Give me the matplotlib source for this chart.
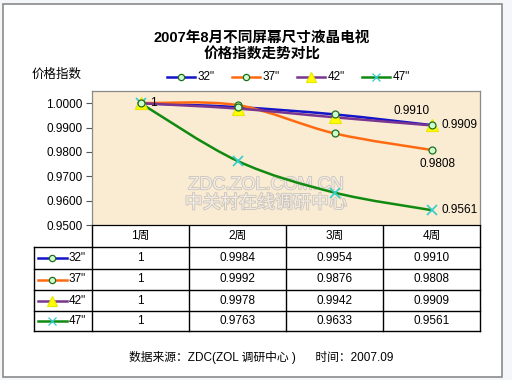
import matplotlib
matplotlib.use("Agg")
import matplotlib.pyplot as plt
import matplotlib.patheffects as pe
from matplotlib.path import Path
from matplotlib.patches import PathPatch, Rectangle
from matplotlib.lines import Line2D
import numpy as np

FONT = ["Liberation Sans", "Noto Sans CJK SC", "DejaVu Sans"]
plt.rcParams["font.family"] = FONT

weeks = ["1周", "2周", "3周", "4周"]
series_names = ['32"', '37"', '42"', '47"']
v32 = [1, 0.9984, 0.9954, 0.9910]
v37 = [1, 0.9992, 0.9876, 0.9808]
v42 = [1, 0.9978, 0.9942, 0.9909]
v47 = [1, 0.9763, 0.9633, 0.9561]
table_text = [
    ["1", "0.9984", "0.9954", "0.9910"],
    ["1", "0.9992", "0.9876", "0.9808"],
    ["1", "0.9978", "0.9942", "0.9909"],
    ["1", "0.9763", "0.9633", "0.9561"],
]
yticks = [0.95, 0.96, 0.97, 0.98, 0.99, 1.00]

title = "2007年8月不同屏幕尺寸液晶电视\n价格指数走势对比"
ylabel = "价格指数"
source = "数据来源：ZDC(ZOL 调研中心 )      时间：2007.09"

styles = [
    dict(color="#1414C8", marker="o", mfc="#CCFFCC", mec="#1E6E1E", ms=5),
    dict(color="#FF6A10", marker="o", mfc="#CCFFCC", mec="#1E6E1E", ms=5),
    dict(color="#7A3590", marker="^", mfc="#FFFF00", mec="#E8E800", ms=8.5),
    dict(color="#108A10", marker="x", mfc="#33CCCC", mec="#33CCCC", ms=7),
]
all_vals = [v32, v37, v42, v47]

W, H = 512, 380
fig = plt.figure(figsize=(W / 100, H / 100), dpi=100, facecolor="#F4F6F9")


def fx(x):
    return x / W


def fy(y):
    return 1 - y / H


# overlay in pixel coordinates for frame, table and texts
ov = fig.add_axes([0, 0, 1, 1], zorder=0)
ov.set_xlim(0, W)
ov.set_ylim(H, 0)
ov.axis("off")
ov.add_patch(Rectangle((3, 4), 499, 373, facecolor="white", edgecolor="#8A8A8A", lw=1.2))

# main plot
L, R, T, B = 92, 480, 91, 225
ax = fig.add_axes([fx(L), fy(B), (R - L) / W, (B - T) / H], zorder=2)
ax.set_facecolor("#FAEBD3")
ax.set_xlim(-0.5, len(weeks) - 0.5)
ax.set_ylim(0.95, 1.005)
ax.set_yticks(yticks)
ax.set_yticklabels([f"{t:.4f}" for t in yticks], fontsize=8.5)
ax.set_xticks([])
ax.tick_params(axis="y", length=4, width=0.8, color="#555555", pad=3)
for s in ax.spines.values():
    s.set_color("#8A8A8A")
    s.set_linewidth(0.9)
ax.spines["bottom"].set_color("black")

# watermark
wm = dict(ha="center", va="center", color="#F4EEE6", fontsize=13, alpha=0.95,
          path_effects=[pe.withStroke(linewidth=1.2, foreground="#C8C2BA")], zorder=1)
ax.text(1.29, 0.9665, "ZDC.ZOL.COM.CN", **wm)
ax.text(1.29, 0.9588, "中关村在线调研中心", **wm)


def smooth_path(xs, ys):
    pts = np.column_stack([xs, ys]).astype(float)
    n = len(pts)
    verts = [pts[0]]
    codes = [Path.MOVETO]
    for i in range(n - 1):
        p0 = pts[max(i - 1, 0)]
        p1 = pts[i]
        p2 = pts[i + 1]
        p3 = pts[min(i + 2, n - 1)]
        c1 = p1 + (p2 - p0) / 6
        c2 = p2 - (p3 - p1) / 6
        verts += [c1, c2, p2]
        codes += [Path.CURVE4] * 3
    return Path(verts, codes)


xs = np.arange(len(weeks))
order = [3, 1, 2, 0]
for k in order:
    st = styles[k]
    ax.add_patch(PathPatch(smooth_path(xs, all_vals[k]), fill=False,
                           edgecolor=st["color"], lw=1.8, zorder=3 + k * 0.1))
for k in order:
    st = styles[k]
    ax.plot(xs, all_vals[k], ls="none", marker=st["marker"], ms=st["ms"],
            mfc=st["mfc"], mec=st["mec"], mew=1.2 if st["marker"] == "x" else 0.9,
            zorder=5)

# data labels
lab = dict(fontsize=8.5, color="black", zorder=6)
ax.annotate("1", (xs[0], v47[0]), xytext=(7, 0), textcoords="offset points",
            ha="left", va="center", **lab)
ax.annotate(f"{v32[-1]:.4f}", (xs[-1], v32[-1]), xytext=(-1, 6), textcoords="offset points",
            ha="right", va="bottom", **lab)
ax.annotate(f"{v42[-1]:.4f}", (xs[-1], v42[-1]), xytext=(7, 0), textcoords="offset points",
            ha="left", va="center", **lab)
ax.annotate(f"{v37[-1]:.4f}", (xs[-1], v37[-1]), xytext=(4, -6), textcoords="offset points",
            ha="center", va="top", **lab)
ax.annotate(f"{v47[-1]:.4f}", (xs[-1], v47[-1]), xytext=(7, 0), textcoords="offset points",
            ha="left", va="center", **lab)

# title, axis label
ov.text(262, 46, title, ha="center", va="center", fontsize=10.5, fontweight="bold",
        linespacing=1.2)
ov.text(57, 75, ylabel, ha="center", va="center", fontsize=9)

# top legend
leg_x = [167, 232, 297, 362]
for k, x0 in enumerate(leg_x):
    st = styles[k]
    ov.add_line(Line2D([x0, x0 + 28], [77, 77], color=st["color"], lw=1.8))
    ov.plot([x0 + 14], [77], ls="none", marker=st["marker"], ms=st["ms"] * 0.9,
            mfc=st["mfc"], mec=st["mec"], mew=0.9)
    ov.text(x0 + 31, 77, series_names[k], ha="left", va="center", fontsize=8.5)

# data table
cw = (R - L) / len(weeks)
row_y = [B, 247, 269, 290, 311, 331]
TL = 34
lk = dict(color="black", lw=1.0)
for y in row_y[1:]:
    ov.add_line(Line2D([TL, R], [y, y], **lk))
ov.add_line(Line2D([TL, TL], [row_y[1], row_y[-1]], **lk))
for i in range(len(weeks) + 1):
    x = L + i * cw
    ov.add_line(Line2D([x, x], [B, row_y[-1]], **lk))
for i, wk in enumerate(weeks):
    ov.text(L + (i + 0.5) * cw, (row_y[0] + row_y[1]) / 2, wk, ha="center",
            va="center", fontsize=8.5)
for r, name in enumerate(series_names):
    yc = (row_y[r + 1] + row_y[r + 2]) / 2
    st = styles[r]
    ov.add_line(Line2D([38, 67], [yc, yc], color=st["color"], lw=1.8))
    ov.plot([52], [yc], ls="none", marker=st["marker"], ms=st["ms"] * 0.9,
            mfc=st["mfc"], mec=st["mec"], mew=0.9)
    ov.text(69, yc, name, ha="left", va="center", fontsize=8.5)
    for i, txt in enumerate(table_text[r]):
        ov.text(L + (i + 0.5) * cw, yc, txt, ha="center", va="center", fontsize=8.5)

ov.text(261, 358, source, ha="center", va="center", fontsize=8.5)

fig.savefig("out.png", dpi=100, facecolor=fig.get_facecolor())
